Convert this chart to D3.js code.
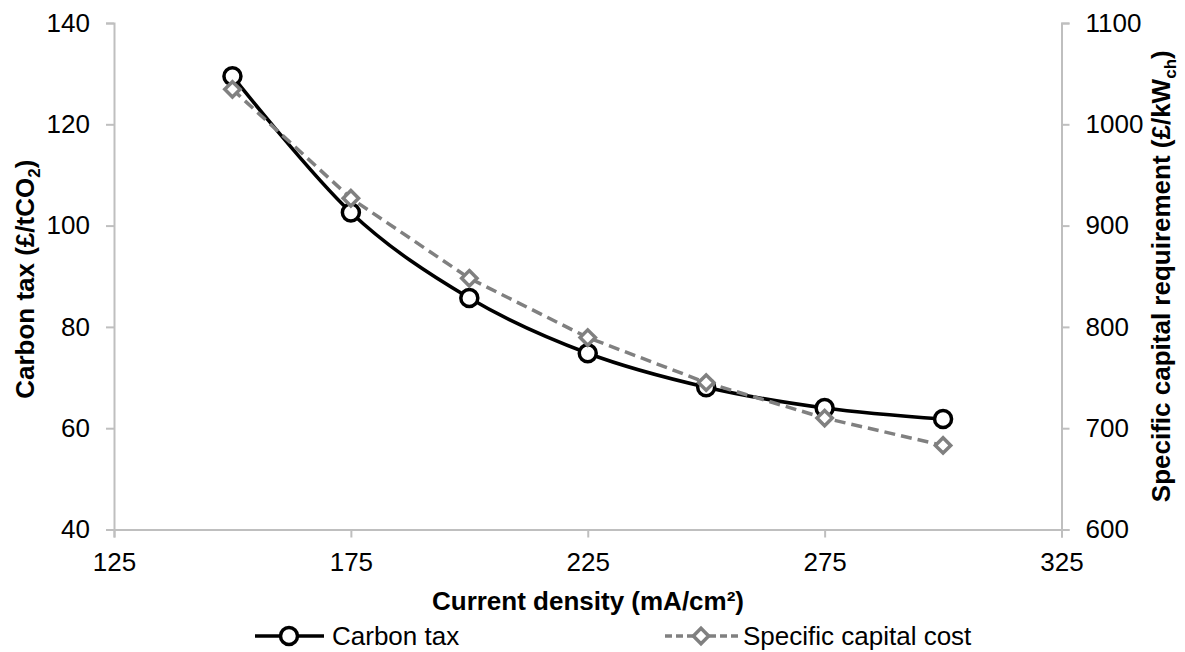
<!DOCTYPE html>
<html>
<head>
<meta charset="utf-8">
<script src="https://cdn.jsdelivr.net/npm/d3@7"></script>
<style>
  html, body { margin: 0; padding: 0; background: #fff; }
  svg { display: block; font-family: "Liberation Sans", Arial, sans-serif; }
</style>
</head>
<body>
<svg id="chart" width="1185" height="652"></svg>
<script>
// Current density (mA/cm²)
const currentDensity = [150, 175, 200, 225, 250, 275, 300];
// Carbon tax (£/tCO2), left axis
const carbonTax = [129.5, 102.6, 85.7, 74.8, 68.1, 64.0, 61.8];
// Specific capital requirement (£/kWch), right axis
const capitalCost = [1034.5, 927, 848, 789.5, 745, 710, 683];

const xTicks = [125, 175, 225, 275, 325];
const yLeftTicks = [40, 60, 80, 100, 120, 140];
const yRightTicks = [600, 700, 800, 900, 1000, 1100];

const svg = d3.select("#chart");
const plotLeft = 114, plotRight = 1061.5, plotTop = 23, plotBottom = 529.5;

const x = d3.scaleLinear().domain([125, 325]).range([plotLeft, plotRight]);
const yL = d3.scaleLinear().domain([40, 140]).range([plotBottom, plotTop]);
const yR = d3.scaleLinear().domain([600, 1100]).range([plotBottom, plotTop]);

const axisColor = "#bfbfbf";
const fontSize = "26px";
const fontFam = "'Liberation Sans', Arial, sans-serif";
const lineW = 3.5;

function styleAxis(g) {
  g.selectAll("path.domain").attr("stroke", axisColor).attr("stroke-width", 2);
  g.selectAll(".tick line").attr("stroke", axisColor).attr("stroke-width", 2);
  g.selectAll(".tick text").attr("fill", "#000").style("font-size", fontSize)
    .style("font-family", fontFam);
}

// Axes
svg.append("g").attr("transform", `translate(0,${plotBottom})`)
  .call(d3.axisBottom(x).tickValues(xTicks).tickFormat(d3.format("d"))
    .tickSizeOuter(0).tickSize(8).tickPadding(15))
  .call(styleAxis);

svg.append("g").attr("transform", `translate(${plotLeft},0)`)
  .call(d3.axisLeft(yL).tickValues(yLeftTicks).tickFormat(d3.format("d"))
    .tickSizeOuter(0).tickSize(8).tickPadding(16))
  .call(styleAxis);

svg.append("g").attr("transform", `translate(${plotRight},0)`)
  .call(d3.axisRight(yR).tickValues(yRightTicks).tickFormat(d3.format("d"))
    .tickSizeOuter(0).tickSize(8).tickPadding(16))
  .call(styleAxis);

// Series: carbon tax (smoothed solid line, open circles)
const taxPts = currentDensity.map((d, i) => [x(d), yL(carbonTax[i])]);
const capPts = currentDensity.map((d, i) => [x(d), yR(capitalCost[i])]);

svg.append("path")
  .attr("d", d3.line().curve(d3.curveCardinal.tension(0))(taxPts))
  .attr("fill", "none").attr("stroke", "#000").attr("stroke-width", lineW);

svg.selectAll("circle.tax").data(taxPts).join("circle")
  .attr("class", "tax")
  .attr("cx", d => d[0]).attr("cy", d => d[1]).attr("r", 8.5)
  .attr("fill", "#fff").attr("stroke", "#000").attr("stroke-width", lineW);

// Series: specific capital cost (dashed grey line, open diamonds)
const capColor = "#808080";
svg.append("path")
  .attr("d", d3.line()(capPts))
  .attr("fill", "none").attr("stroke", capColor).attr("stroke-width", lineW)
  .attr("stroke-dasharray", "11,6");

const diamond = d3.symbol().type(d3.symbolDiamond2).size(150);
svg.selectAll("path.cap").data(capPts).join("path")
  .attr("class", "cap")
  .attr("d", diamond)
  .attr("transform", d => `translate(${d[0]},${d[1]})`)
  .attr("fill", "#fff").attr("stroke", capColor).attr("stroke-width", lineW);

// Axis titles
svg.append("text")
  .attr("x", 588).attr("y", 610)
  .attr("text-anchor", "middle").style("font-size", fontSize).style("font-weight", "bold")
  .text("Current density (mA/cm²)");

const yLTitle = svg.append("text")
  .attr("transform", `translate(34,${(plotTop + plotBottom) / 2 + 3}) rotate(-90)`)
  .attr("text-anchor", "middle").style("font-size", fontSize).style("font-weight", "bold");
yLTitle.append("tspan").text("Carbon tax (£/tCO");
yLTitle.append("tspan").attr("dy", 6).style("font-size", "17px").text("2");
yLTitle.append("tspan").attr("dy", -6).text(")");

const yRTitle = svg.append("text")
  .attr("transform", `translate(1170,${(plotTop + plotBottom) / 2}) rotate(-90)`)
  .attr("text-anchor", "middle").style("font-size", fontSize).style("font-weight", "bold");
yRTitle.append("tspan").text("Specific capital requirement (£/kW");
yRTitle.append("tspan").attr("dy", 6).style("font-size", "17px").text("ch");
yRTitle.append("tspan").attr("dy", -6).text(")");

// Legend
const legY = 636;
const leg1 = svg.append("g");
leg1.append("line").attr("x1", 255).attr("x2", 324).attr("y1", legY).attr("y2", legY)
  .attr("stroke", "#000").attr("stroke-width", lineW);
leg1.append("circle").attr("cx", 289).attr("cy", legY).attr("r", 8.5)
  .attr("fill", "#fff").attr("stroke", "#000").attr("stroke-width", lineW);
leg1.append("text").attr("x", 332).attr("y", legY + 9).style("font-size", fontSize).text("Carbon tax");

const leg2 = svg.append("g");
leg2.append("line").attr("x1", 665).attr("x2", 738).attr("y1", legY).attr("y2", legY)
  .attr("stroke", capColor).attr("stroke-width", lineW).attr("stroke-dasharray", "7,4");
leg2.append("path").attr("d", diamond).attr("transform", `translate(701,${legY})`)
  .attr("fill", "#fff").attr("stroke", capColor).attr("stroke-width", lineW);
leg2.append("text").attr("x", 743).attr("y", legY + 9).style("font-size", fontSize).text("Specific capital cost");
</script>
</body>
</html>
